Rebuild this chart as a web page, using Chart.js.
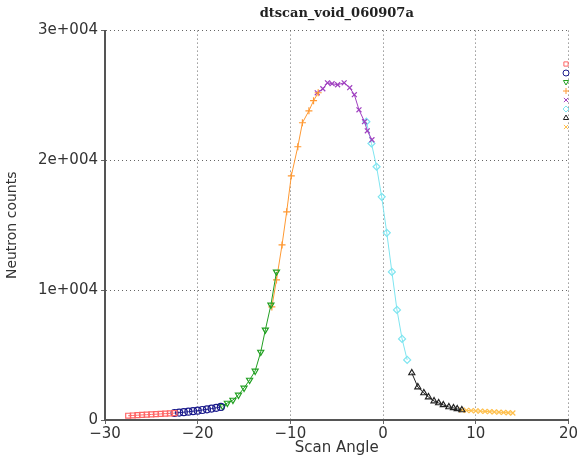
<!DOCTYPE html>
<html>
<head>
<meta charset="utf-8">
<script src="https://cdn.jsdelivr.net/npm/chart.js@4/dist/chart.umd.min.js"></script>
<style>
  body { margin: 0; background: #fff; }
  canvas { display: block; }
</style>
</head>
<body>
<canvas id="scanChart" width="579" height="460"></canvas>
<script>
// scan segments (angle in deg, counts)
const redX = [-27.5, -27, -26.5, -26, -25.5, -25, -24.5, -24, -23.5, -23, -22.5];
const redY = [330, 350, 370, 390, 410, 430, 450, 470, 490, 510, 530];
const blueX = [-22.5, -22, -21.5, -21, -20.5, -20, -19.5, -19, -18.5, -18, -17.5];
const blueY = [540, 570, 600, 640, 680, 720, 770, 820, 880, 940, 1010];
const greenX = [-17.3, -16.8, -16.2, -15.6, -15.0, -14.4, -13.8, -13.2, -12.7, -12.1, -11.5];
const greenY = [1050, 1310, 1540, 1930, 2470, 3080, 3780, 5240, 6940, 8870, 11410];
const orangeX = [-12.0, -11.5, -10.9, -10.4, -9.9, -9.2, -8.7, -8.0, -7.5, -7.0];
const orangeY = [8710, 10790, 13490, 16040, 18810, 21050, 22900, 23820, 24600, 25210];
const purpleX = [-7.1, -6.5, -6.0, -5.5, -4.9, -4.2, -3.6, -3.1, -2.6, -2.0, -1.7, -1.2];
const purpleY = [25210, 25520, 25980, 25910, 25830, 25980, 25600, 25060, 23900, 22980, 22280, 21590];
const cyanX = [-1.8, -1.25, -0.7, -0.15, 0.4, 0.95, 1.5, 2.05, 2.6];
const cyanY = [22980, 21300, 19510, 17190, 14420, 11410, 8480, 6250, 4630];
const blackX = [3.1, 3.75, 4.4, 4.9, 5.5, 6.0, 6.5, 7.1, 7.6, 8.0, 8.5];
const blackY = [3620, 2540, 2080, 1770, 1460, 1310, 1160, 1000, 930, 850, 770];
const yellowX = [8.5, 9, 9.5, 10, 10.5, 11, 11.5, 12, 12.5, 13, 13.5, 14];
const yellowY = [760, 740, 720, 700, 680, 660, 640, 620, 600, 580, 560, 540];

const xTicks = [-30, -20, -10, 0, 10, 20];
const yTicks = [0, 10000, 20000, 30000];

function pts(xs, ys) {
    return xs.map((x, i) => ({ x: x, y: ys[i] }));
}

function seg(xs, ys, color, style, rotation) {
    return {
        data: pts(xs, ys),
        showLine: true,
        borderColor: color,
        backgroundColor: 'rgba(255,255,255,0)',
        borderWidth: 1,
        pointStyle: style,
        pointRotation: rotation || 0,
        pointRadius: 3.5,
        pointBorderWidth: 1.2,
        tension: 0
    };
}

// marker-only legend stacked at the right edge
const markerLegend = {
    id: 'markerLegend',
    afterDraw(chart) {
        const ctx = chart.ctx;
        chart.data.datasets.forEach((ds, i) => {
            ctx.save();
            ctx.strokeStyle = ds.borderColor;
            ctx.fillStyle = 'rgba(255,255,255,0)';
            ctx.lineWidth = 1;
            Chart.helpers.drawPoint(ctx, {
                pointStyle: ds.pointStyle,
                rotation: ds.pointRotation,
                radius: 3,
                borderWidth: 1
            }, 566, 64 + 9 * i);
            ctx.restore();
        });
    }
};

const tickFont = { family: 'DejaVu Sans', size: 15 };
const gridOpts = { color: '#666', lineWidth: 1, tickLength: 4 };
const borderOpts = { color: '#555', width: 2, dash: [1, 3] };

const ctx = document.getElementById('scanChart').getContext('2d');
const scanChart = new Chart(ctx, {
    type: 'scatter',
    data: {
        datasets: [
            seg(redX, redY, '#ff6666', 'rect'),
            seg(blueX, blueY, '#1a1a8c', 'circle'),
            seg(greenX, greenY, '#22a022', 'triangle', 180),
            seg(orangeX, orangeY, '#ff9933', 'cross'),
            seg(purpleX, purpleY, '#a040c0', 'crossRot'),
            seg(cyanX, cyanY, '#7fe5f0', 'rectRot'),
            seg(blackX, blackY, '#222222', 'triangle'),
            seg(yellowX, yellowY, '#ffc04d', 'crossRot')
        ]
    },
    options: {
        responsive: false,
        animation: false,
        layout: { padding: { left: 0, right: 8, top: 0, bottom: 0 } },
        plugins: {
            legend: { display: false },
            tooltip: { enabled: false },
            title: {
                display: true,
                text: 'dtscan_void_060907a',
                fullSize: false,
                color: '#222',
                font: { family: 'DejaVu Serif', size: 13, weight: 'bold' },
                padding: { top: 6, bottom: 9 }
            }
        },
        scales: {
            x: {
                type: 'linear',
                min: xTicks[0],
                max: xTicks[xTicks.length - 1],
                afterBuildTicks: s => { s.ticks = xTicks.map(v => ({ value: v })); },
                afterFit: s => { s.height = 40; },
                grid: gridOpts,
                border: borderOpts,
                ticks: {
                    color: '#333',
                    font: tickFont,
                    padding: 1,
                    maxRotation: 0,
                    callback: v => v < 0 ? '\u2212' + Math.abs(v) : String(v)
                },
                title: {
                    display: true,
                    text: 'Scan Angle',
                    color: '#333',
                    font: tickFont,
                    padding: { top: 0, bottom: 3 }
                }
            },
            y: {
                min: yTicks[0],
                max: yTicks[yTicks.length - 1],
                afterBuildTicks: s => { s.ticks = yTicks.map(v => ({ value: v })); },
                afterFit: s => { s.width = 105; },
                grid: gridOpts,
                border: borderOpts,
                ticks: {
                    color: '#333',
                    font: tickFont,
                    padding: 3,
                    callback: v => v === 0 ? '0' : (v / 10000) + 'e+004'
                },
                title: {
                    display: true,
                    text: 'Neutron counts',
                    color: '#333',
                    font: { family: 'DejaVu Sans', size: 14 },
                    padding: { top: 4, bottom: 0 }
                }
            }
        }
    },
    plugins: [markerLegend]
});
</script>
</body>
</html>
